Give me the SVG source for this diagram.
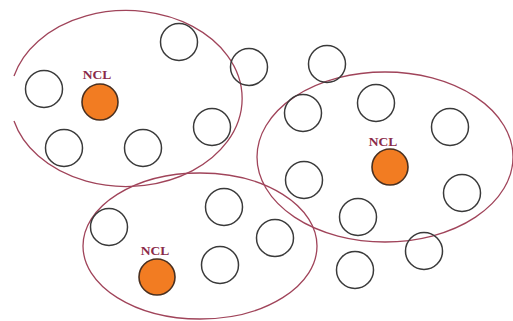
<svg xmlns="http://www.w3.org/2000/svg" width="513" height="321" viewBox="0 0 513 321">
  <style>
    .cluster { fill: none; stroke: #a0445a; stroke-width: 1.3; }
    .node { fill: none; stroke: #3a3a3a; stroke-width: 1.5; }
    .head { fill: #f27c22; stroke: #4a3020; stroke-width: 1.6; }
    .lbl { font-family: "Liberation Serif", "Times New Roman", serif; font-weight: bold; font-size: 13.5px; fill: #8a2a48; text-anchor: middle; }
  </style>
  <rect width="513" height="321" fill="#ffffff"/>

  <!-- cluster boundaries -->
  <g id="clusters">
    <!-- left cluster outline, open on its far-left side -->
    <path class="cluster" d="M 14 121 A 116 88 0 1 0 14 76"/>
    <ellipse class="cluster" cx="385" cy="157" rx="128" ry="85"/>
    <ellipse class="cluster" cx="200" cy="246" rx="117" ry="73"/>
  </g>

  <!-- cluster heads -->
  <g id="ncl1"><circle class="head" cx="100" cy="102" r="18"/><text class="lbl" x="97" y="79">NCL</text></g>
  <g id="ncl2"><circle class="head" cx="390" cy="167" r="18"/><text class="lbl" x="383" y="146">NCL</text></g>
  <g id="ncl3"><circle class="head" cx="157" cy="277" r="18"/><text class="lbl" x="155" y="255">NCL</text></g>

  <!-- ordinary nodes -->
  <g id="n1"><circle class="node" cx="44" cy="89" r="18.5"/></g>
  <g id="n2"><circle class="node" cx="64" cy="148" r="18.5"/></g>
  <g id="n3"><circle class="node" cx="143" cy="148" r="18.5"/></g>
  <g id="n4"><circle class="node" cx="212" cy="127" r="18.5"/></g>
  <g id="n5"><circle class="node" cx="179" cy="42" r="18.5"/></g>
  <g id="n6"><circle class="node" cx="249" cy="67" r="18.5"/></g>
  <g id="n7"><circle class="node" cx="327" cy="64" r="18.5"/></g>
  <g id="n8"><circle class="node" cx="303" cy="113" r="18.5"/></g>
  <g id="n9"><circle class="node" cx="376" cy="103" r="18.5"/></g>
  <g id="n10"><circle class="node" cx="450" cy="127" r="18.5"/></g>
  <g id="n11"><circle class="node" cx="304" cy="180" r="18.5"/></g>
  <g id="n12"><circle class="node" cx="462" cy="193" r="18.5"/></g>
  <g id="n13"><circle class="node" cx="358" cy="217" r="18.5"/></g>
  <g id="n14"><circle class="node" cx="424" cy="251" r="18.5"/></g>
  <g id="n15"><circle class="node" cx="355" cy="270" r="18.5"/></g>
  <g id="n16"><circle class="node" cx="224" cy="207" r="18.5"/></g>
  <g id="n17"><circle class="node" cx="109" cy="227" r="18.5"/></g>
  <g id="n18"><circle class="node" cx="275" cy="238" r="18.5"/></g>
  <g id="n19"><circle class="node" cx="220" cy="265" r="18.5"/></g>
</svg>
